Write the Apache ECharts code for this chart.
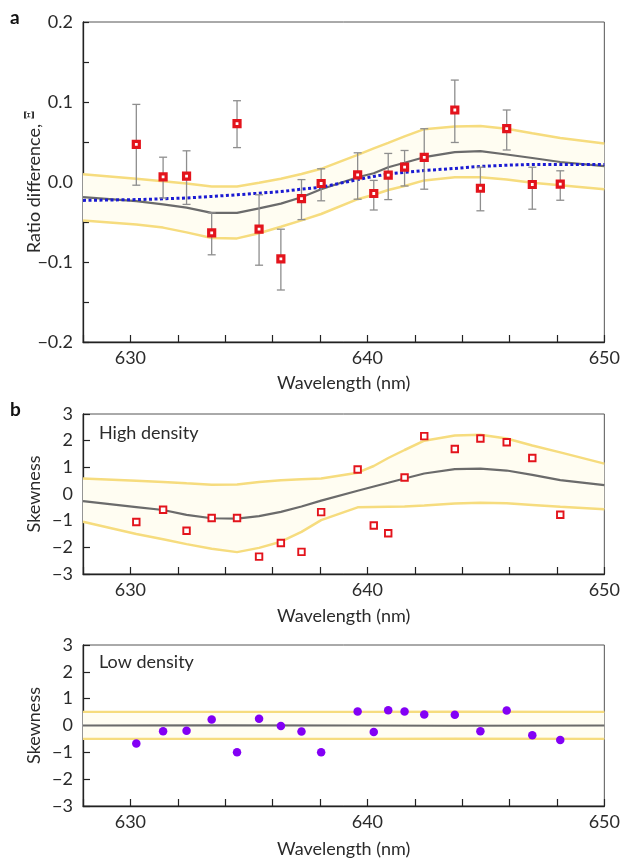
<!DOCTYPE html>
<html>
<head>
<meta charset="utf-8">
<script src="https://cdn.jsdelivr.net/npm/echarts@6/dist/echarts.min.js"></script>
<style>
  html, body { margin: 0; padding: 0; background: #fff; }
  #chart { width: 623px; height: 860px; }
</style>
</head>
<body>
<div id="chart"></div>
<script>
// ---------- Data ----------
const wavelengths = [630.25, 631.38, 632.37, 633.43, 634.50, 635.43, 636.35, 637.22, 638.05, 639.59, 640.27, 640.88, 641.57, 642.40, 643.69, 644.77, 645.88, 646.96, 648.14];

// panel a: ratio difference with error bars
const ratioDiff     = [0.047, 0.0065, 0.0073, -0.0636, 0.073, -0.059, -0.096, -0.0207, -0.0019, 0.009, -0.0144, 0.0085, 0.0185, 0.0307, 0.090, -0.0078, 0.0666, -0.0031, -0.0027];
const ratioErrLow   = [-0.004, -0.020, -0.028, -0.091, 0.043, -0.104, -0.135, -0.047, -0.0235, -0.0215, -0.035, -0.022, -0.005, -0.009, 0.0494, -0.036, 0.040, -0.034, -0.0228];
const ratioErrHigh  = [0.097, 0.031, 0.039, -0.0385, 0.1016, -0.016, -0.059, 0.003, 0.0165, 0.0365, 0.002, 0.0357, 0.0394, 0.0666, 0.1274, 0.0185, 0.090, 0.0185, 0.014];

// model curves (nodes)
const modelWl = [628, 630.25, 631.38, 632.37, 633.43, 634.5, 635.43, 636.35, 637.22, 638.05, 639.59, 640.27, 640.88, 641.57, 642.4, 643.69, 644.77, 645.88, 646.96, 648.14, 650];
const aMean  = [-0.019, -0.024, -0.028, -0.032, -0.0385, -0.0385, -0.033, -0.027, -0.019, -0.009, 0.006, 0.011, 0.0185, 0.024, 0.031, 0.0373, 0.0386, 0.0344, 0.030, 0.025, 0.0198];
const aUpper = [0.0098, 0.004, 0.001, -0.002, -0.0056, -0.0056, -0.001, 0.004, 0.010, 0.0165, 0.034, 0.042, 0.049, 0.057, 0.066, 0.0695, 0.070, 0.0666, 0.061, 0.055, 0.048];
const aLower = [-0.048, -0.053, -0.057, -0.063, -0.070, -0.0705, -0.064, -0.056, -0.048, -0.040, -0.0215, -0.016, -0.010, -0.005, 0.002, 0.006, 0.006, 0.003, -0.001, -0.004, -0.009];
const aFit   = [-0.023, -0.022, -0.021, -0.020, -0.018, -0.016, -0.014, -0.012, -0.009, -0.0065, 0.003, 0.007, 0.010, 0.012, 0.0144, 0.017, 0.0195, 0.021, 0.022, 0.022, 0.022];

// panel b: high density skewness
const highSkew = [-1.05, -0.59, -1.38, -0.9, -0.9, -2.35, -1.84, -2.17, -0.68, 0.92, -1.18, -1.47, 0.62, 2.17, 1.69, 2.08, 1.94, 1.35, -0.78];
const bMean  = [-0.27, -0.49, -0.6, -0.78, -0.91, -0.92, -0.83, -0.67, -0.47, -0.25, 0.12, 0.28, 0.42, 0.58, 0.77, 0.93, 0.95, 0.88, 0.72, 0.52, 0.33];
const bUpper = [0.58, 0.5, 0.45, 0.4, 0.35, 0.36, 0.45, 0.52, 0.55, 0.58, 0.8, 1.05, 1.35, 1.65, 2.0, 2.19, 2.22, 2.08, 1.82, 1.56, 1.14];
const bLower = [-1.04, -1.5, -1.7, -1.88, -2.05, -2.18, -2.02, -1.79, -1.42, -0.98, -0.5, -0.49, -0.48, -0.47, -0.43, -0.36, -0.33, -0.35, -0.41, -0.48, -0.57];

// panel c: low density skewness
const lowSkew = [-0.67, -0.21, -0.2, 0.22, -1.0, 0.25, -0.02, -0.22, -1.0, 0.52, -0.24, 0.57, 0.52, 0.41, 0.40, -0.21, 0.56, -0.36, -0.54];
const cWl    = [628, 634, 639.6, 643.7, 650];
const cMean  = [0.0, 0.01, 0.0, -0.01, 0.0];
const cUpper = [0.51, 0.51, 0.51, 0.52, 0.51];
const cLower = [-0.5, -0.5, -0.5, -0.49, -0.5];

// tick labels
const xTickLabels = [630, 640, 650];
const xAxisName = 'Wavelength (nm)';

// ---------- Styles ----------
const FONT = 'Lato, "Open Sans", sans-serif';
const FS = 18;
const TXT = '#2b2b2b';
const RED = '#e3141c';
const YEL = '#f6dc7e';
const BAND = '#fffdf2';
const GRAY = '#6b6b6b';
const BLUE = '#1a1ad2';
const PURPLE = '#8300f5';

const chart = echarts.init(document.getElementById('chart'), null, { renderer: 'canvas' });

const grids = [
  { left: 83, top: 22, width: 522, height: 320 },
  { left: 83, top: 414, width: 522, height: 160 },
  { left: 83, top: 645, width: 522, height: 161 }
].map(g => Object.assign(g, { show: true, borderColor: '#555', borderWidth: 1, backgroundColor: 'transparent' }));

function xAxis(idx, gap) {
  return {
    type: 'value', gridIndex: idx, min: 628, max: 650, interval: 2,
    name: xAxisName, nameLocation: 'middle', nameGap: gap, nameMoveOverlap: false,
    nameTextStyle: { fontFamily: FONT, fontSize: FS, color: TXT },
    axisLine: { show: true, onZero: false, lineStyle: { color: '#222', width: 1.3 } },
    axisTick: { show: true, inside: true, length: 7, lineStyle: { color: '#222', width: 1.2 } },
    axisLabel: {
      margin: 7, fontFamily: FONT, fontSize: FS, color: TXT,
      showMinLabel: true, showMaxLabel: true,
      formatter: v => xTickLabels.indexOf(Math.round(v)) >= 0 && Math.abs(v - Math.round(v)) < 1e-6 ? String(Math.round(v)) : ''
    },
    splitLine: { show: false }
  };
}

function yAxisSkew(idx) {
  return {
    type: 'value', gridIndex: idx, min: -3, max: 3, interval: 1,
    name: 'Skewness', nameLocation: 'middle', nameGap: 40, nameRotate: 90, nameMoveOverlap: false,
    nameTextStyle: { fontFamily: FONT, fontSize: FS, color: TXT },
    axisLine: { show: true, onZero: false, lineStyle: { color: '#222', width: 1.3 } },
    axisTick: { show: true, inside: true, length: 7, lineStyle: { color: '#222', width: 1.2 } },
    axisLabel: {
      margin: 10, fontFamily: FONT, fontSize: FS, color: TXT,
      formatter: v => (v < 0 ? '\u2212' : '') + Math.abs(Math.round(v))
    },
    splitLine: { show: false }
  };
}

function bandSeries(xi, xs, lo, hi) {
  return {
    type: 'custom', xAxisIndex: xi, yAxisIndex: xi, silent: true, z: 1,
    data: [[xs[0], lo[0]]],
    encode: { x: 0, y: 1 },
    renderItem: (params, api) => {
      const pts = [];
      for (let i = 0; i < xs.length; i++) pts.push(api.coord([xs[i], hi[i]]));
      for (let i = xs.length - 1; i >= 0; i--) pts.push(api.coord([xs[i], lo[i]]));
      return { type: 'polygon', shape: { points: pts }, style: { fill: BAND } };
    }
  };
}

function lineSeries(xi, xs, ys, color, width, z, type) {
  return {
    type: 'line', xAxisIndex: xi, yAxisIndex: xi, silent: true, z: z,
    data: xs.map((x, i) => [x, ys[i]]),
    showSymbol: false, symbol: 'none', smooth: false,
    lineStyle: { color: color, width: width, type: type || 'solid', cap: 'butt' }
  };
}

const series = [
  // ---- panel a ----
  bandSeries(0, modelWl, aLower, aUpper),
  lineSeries(0, modelWl, aUpper, YEL, 2.5, 2),
  lineSeries(0, modelWl, aLower, YEL, 2.5, 2),
  lineSeries(0, modelWl, aMean, GRAY, 2.2, 3),
  lineSeries(0, modelWl, aFit, BLUE, 3, 4, [3, 2.5]),
  {
    type: 'custom', xAxisIndex: 0, yAxisIndex: 0, z: 5, silent: true,
    data: wavelengths.map((w, i) => [w, ratioErrLow[i], ratioErrHigh[i]]),
    encode: { x: 0, y: [1, 2] },
    renderItem: (params, api) => {
      const x = api.value(0);
      const pLo = api.coord([x, api.value(1)]);
      const pHi = api.coord([x, api.value(2)]);
      const hw = 4;
      const st = { stroke: '#8e8e8e', lineWidth: 1.3 };
      return {
        type: 'group', children: [
          { type: 'line', shape: { x1: pLo[0], y1: pLo[1], x2: pHi[0], y2: pHi[1] }, style: st },
          { type: 'line', shape: { x1: pHi[0] - hw, y1: pHi[1], x2: pHi[0] + hw, y2: pHi[1] }, style: st },
          { type: 'line', shape: { x1: pLo[0] - hw, y1: pLo[1], x2: pLo[0] + hw, y2: pLo[1] }, style: st }
        ]
      };
    }
  },
  {
    type: 'scatter', xAxisIndex: 0, yAxisIndex: 0, z: 6, silent: true,
    data: wavelengths.map((w, i) => [w, ratioDiff[i]]),
    symbol: 'rect', symbolSize: 6,
    itemStyle: { color: '#ffffff', borderColor: RED, borderWidth: 3.2, opacity: 1 }
  },
  // ---- panel b ----
  bandSeries(1, modelWl, bLower, bUpper),
  lineSeries(1, modelWl, bUpper, YEL, 2.5, 2),
  lineSeries(1, modelWl, bLower, YEL, 2.5, 2),
  lineSeries(1, modelWl, bMean, GRAY, 2.2, 3),
  {
    type: 'scatter', xAxisIndex: 1, yAxisIndex: 1, z: 6, silent: true,
    data: wavelengths.map((w, i) => [w, highSkew[i]]),
    symbol: 'rect', symbolSize: 6.5,
    itemStyle: { color: '#ffffff', borderColor: RED, borderWidth: 1.9, opacity: 1 }
  },
  // ---- panel c ----
  bandSeries(2, cWl, cLower, cUpper),
  lineSeries(2, cWl, cUpper, YEL, 2.2, 2),
  lineSeries(2, cWl, cLower, YEL, 2.2, 2),
  lineSeries(2, cWl, cMean, GRAY, 2, 3),
  {
    type: 'scatter', xAxisIndex: 2, yAxisIndex: 2, z: 6, silent: true,
    data: wavelengths.map((w, i) => [w, lowSkew[i]]),
    symbol: 'circle', symbolSize: 8.5,
    itemStyle: { color: PURPLE, opacity: 1 }
  }
];

const option = {
  backgroundColor: '#ffffff',
  animation: false,
  grid: grids,
  xAxis: [xAxis(0, 32), xAxis(1, 33), xAxis(2, 34)],
  yAxis: [
    {
      type: 'value', gridIndex: 0, min: -0.2, max: 0.2, interval: 0.05,
      name: '{t|Ratio difference, }{s|\u039E}', nameLocation: 'middle', nameGap: 40, nameRotate: 90, nameMoveOverlap: false,
      nameTextStyle: {
        fontFamily: FONT, fontSize: FS, color: TXT,
        rich: {
          t: { fontFamily: FONT, fontSize: FS, color: TXT },
          s: { fontFamily: '"DejaVu Serif", serif', fontSize: 12, fontWeight: 'bold', color: TXT, padding: [0, 0, 6, 0] }
        }
      },
      axisLine: { show: true, onZero: false, lineStyle: { color: '#222', width: 1.3 } },
      axisTick: { show: true, inside: true, length: 6, lineStyle: { color: '#222', width: 1.2 } },
      axisLabel: {
        margin: 10, fontFamily: FONT, fontSize: FS, color: TXT,
        formatter: v => {
          const r = Math.round(v * 100);
          if (r % 10 !== 0) return '';
          return (r < 0 ? '\u2212' : '') + (Math.abs(r) / 100).toFixed(1);
        }
      },
      splitLine: { show: false }
    },
    yAxisSkew(1),
    yAxisSkew(2)
  ],
  graphic: [
    { type: 'text', left: 10, top: 8, style: { text: 'a', fontFamily: FONT, fontSize: 19, fontWeight: 'bold', fill: '#111' } },
    { type: 'text', left: 10, top: 400, style: { text: 'b', fontFamily: FONT, fontSize: 19, fontWeight: 'bold', fill: '#111' } },
    { type: 'text', left: 99, top: 424, style: { text: 'High density', fontFamily: FONT, fontSize: FS, fill: TXT } },
    { type: 'text', left: 99, top: 653, style: { text: 'Low density', fontFamily: FONT, fontSize: FS, fill: TXT } }
  ],
  series: series
};

chart.setOption(option);
</script>
</body>
</html>
